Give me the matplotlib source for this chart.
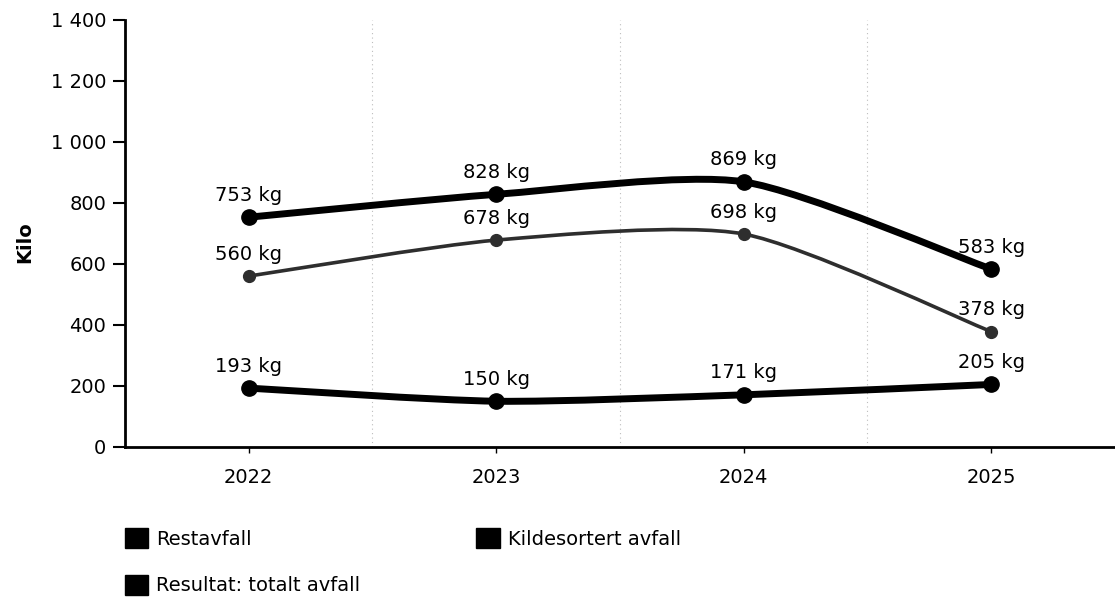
import numpy as np
import matplotlib.pyplot as plt
from matplotlib.path import Path
from matplotlib.patches import PathPatch, Patch
from matplotlib.ticker import FuncFormatter

years = [2022, 2023, 2024, 2025]
restavfall = [560, 678, 698, 378]
kildesortert = [193, 150, 171, 205]
totalt = [753, 828, 869, 583]
legend_labels = ["Restavfall", "Kildesortert avfall", "Resultat: totalt avfall"]


def spline_path(xs, ys, k=0.12):
    # cardinal spline through the points, written as cubic bezier segments
    n = len(xs)
    px = [xs[0]] + list(xs) + [xs[-1]]
    py = [ys[0]] + list(ys) + [ys[-1]]
    verts = [(xs[0], ys[0])]
    codes = [Path.MOVETO]
    for i in range(1, n):
        c1 = (px[i] + (px[i + 1] - px[i - 1]) * k, py[i] + (py[i + 1] - py[i - 1]) * k)
        c2 = (px[i + 1] - (px[i + 2] - px[i]) * k, py[i + 1] - (py[i + 2] - py[i]) * k)
        verts += [c1, c2, (px[i + 1], py[i + 1])]
        codes += [Path.CURVE4] * 3
    return Path(verts, codes)


plt.rcParams['font.family'] = ['DejaVu Sans']
fig = plt.figure(figsize=(11.15, 6), dpi=100)
ax = fig.add_axes([0.112, 0.255, 0.888, 0.712])

series = [
    (totalt, '#000000', 5, 11),
    (restavfall, '#2e2e2e', 2.6, 8.5),
    (kildesortert, '#000000', 5, 11),
]
for vals, col, lw, ms in series:
    ax.add_patch(PathPatch(spline_path(years, vals), fill=False, edgecolor=col,
                           lw=lw, capstyle='round', zorder=3))
    ax.plot(years, vals, 'o', color=col, ms=ms, zorder=4)
    for x, v in zip(years, vals):
        ax.annotate(f"{v} kg", (x, v), xytext=(0, 9), textcoords='offset points',
                    ha='center', va='bottom', fontsize=14)

for b in [2022.5, 2023.5, 2024.5]:
    ax.axvline(b, color='#bdbdbd', lw=0.8, ls=(0, (1, 3)), zorder=1)

ax.set_xlim(2021.5, 2025.5)
ax.set_ylim(0, 1400)
ax.set_xticks(years)
ax.set_yticks(range(0, 1401, 200))
ax.yaxis.set_major_formatter(FuncFormatter(lambda v, p: f"{int(v):,}".replace(",", " ")))
ax.tick_params(axis='y', length=8.5, width=1.5, labelsize=14, pad=5)
ax.tick_params(axis='x', length=4, width=1, labelsize=14, pad=11)
for s in ['top', 'right']:
    ax.spines[s].set_visible(False)
ax.spines['left'].set_linewidth(2)
ax.spines['bottom'].set_linewidth(2)
ax.set_ylabel("Kilo", fontsize=14, fontweight='bold')
ax.yaxis.set_label_coords(-0.092, 0.48)

handles = [Patch(facecolor='black', edgecolor='black') for _ in legend_labels]
order = [0, 2, 1]
fig.legend([handles[i] for i in order], [legend_labels[i] for i in order],
           ncol=2, loc='upper left', bbox_to_anchor=(0.103, 0.136),
           frameon=False, fontsize=14, handlelength=1.2, handleheight=1.2,
           handletextpad=0.4, columnspacing=6.0, labelspacing=1.35, borderpad=0)

fig.savefig("out.png", dpi=100)
